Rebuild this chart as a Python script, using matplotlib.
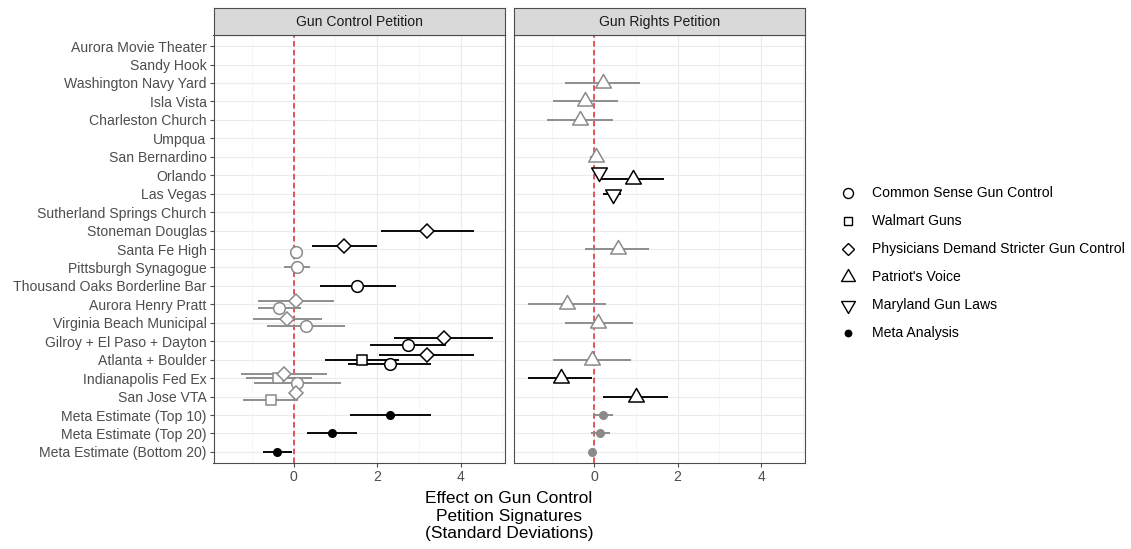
import matplotlib
matplotlib.use("Agg")
import matplotlib.pyplot as plt
from matplotlib.path import Path

plt.rcParams['font.family'] = ['Liberation Sans', 'DejaVu Sans']

# ---------------------------------------------------------------- data
events = [
    "Aurora Movie Theater", "Sandy Hook", "Washington Navy Yard", "Isla Vista",
    "Charleston Church", "Umpqua", "San Bernardino", "Orlando", "Las Vegas",
    "Sutherland Springs Church", "Stoneman Douglas", "Santa Fe High",
    "Pittsburgh Synagogue", "Thousand Oaks Borderline Bar", "Aurora Henry Pratt",
    "Virginia Beach Municipal", "Gilroy + El Paso + Dayton", "Atlanta + Boulder",
    "Indianapolis Fed Ex", "San Jose VTA", "Meta Estimate (Top 10)",
    "Meta Estimate (Top 20)", "Meta Estimate (Bottom 20)",
]
panels = ["Gun Control Petition", "Gun Rights Petition"]
x_ticks = [0, 2, 4]

# Gun Control Petition panel
cs_events = ["Santa Fe High", "Pittsburgh Synagogue", "Thousand Oaks Borderline Bar",
             "Aurora Henry Pratt", "Virginia Beach Municipal", "Gilroy + El Paso + Dayton",
             "Atlanta + Boulder", "Indianapolis Fed Ex"]
cs_est = [0.05, 0.07, 1.52, -0.34, 0.29, 2.74, 2.30, 0.09]
cs_lo = [-0.05, -0.23, 0.63, -0.85, -0.65, 1.82, 1.31, -0.95]
cs_hi = [0.15, 0.39, 2.44, 0.17, 1.23, 3.66, 3.28, 1.13]

wm_events = ["Atlanta + Boulder", "Indianapolis Fed Ex", "San Jose VTA"]
wm_est = [1.63, -0.38, -0.55]
wm_lo = [0.75, -1.15, -1.21]
wm_hi = [2.52, 0.43, 0.10]

pd_events = ["Stoneman Douglas", "Santa Fe High", "Aurora Henry Pratt",
             "Virginia Beach Municipal", "Gilroy + El Paso + Dayton", "Atlanta + Boulder",
             "Indianapolis Fed Ex", "San Jose VTA"]
pd_est = [3.20, 1.21, 0.06, -0.15, 3.60, 3.19, -0.23, 0.05]
pd_lo = [2.08, 0.43, -0.85, -0.97, 2.40, 2.04, -1.27, -0.05]
pd_hi = [4.32, 1.99, 0.97, 0.69, 4.78, 4.32, 0.81, 0.15]

meta_events = ["Meta Estimate (Top 10)", "Meta Estimate (Top 20)", "Meta Estimate (Bottom 20)"]
meta_gc_est = [2.30, 0.91, -0.39]
meta_gc_lo = [1.35, 0.31, -0.74]
meta_gc_hi = [3.28, 1.52, -0.03]

# Gun Rights Petition panel
pv_events = ["Washington Navy Yard", "Isla Vista", "Charleston Church", "San Bernardino",
             "Orlando", "Santa Fe High", "Aurora Henry Pratt", "Virginia Beach Municipal",
             "Atlanta + Boulder", "Indianapolis Fed Ex", "San Jose VTA"]
pv_est = [0.20, -0.22, -0.34, 0.04, 0.92, 0.56, -0.66, 0.10, -0.06, -0.80, 1.01]
pv_lo = [-0.70, -0.98, -1.12, -0.10, 0.16, -0.22, -1.58, -0.70, -0.98, -1.58, 0.22]
pv_hi = [1.10, 0.58, 0.46, 0.18, 1.68, 1.32, 0.28, 0.92, 0.88, -0.04, 1.77]

md_events = ["Orlando", "Las Vegas"]
md_est = [0.12, 0.44]
md_lo = [0.04, 0.22]
md_hi = [0.20, 0.65]

meta_gr_est = [0.22, 0.14, -0.04]
meta_gr_lo = [-0.01, -0.08, -0.12]
meta_gr_hi = [0.44, 0.38, 0.04]

legend_labels = ["Common Sense Gun Control", "Walmart Guns",
                 "Physicians Demand Stricter Gun Control", "Patriot's Voice",
                 "Maryland Gun Laws", "Meta Analysis"]

# ---------------------------------------------------------------- styles
BLACK = "#000000"
GREY = "#8a8a8a"
up_tri = Path([(0, 1), (-0.866, -0.5), (0.866, -0.5), (0, 1)],
              [Path.MOVETO, Path.LINETO, Path.LINETO, Path.CLOSEPOLY])
down_tri = Path([(0, -1), (-0.866, 0.5), (0.866, 0.5), (0, -1)],
                [Path.MOVETO, Path.LINETO, Path.LINETO, Path.CLOSEPOLY])

# label -> (marker, size, filled)
marker_style = {
    "Common Sense Gun Control": ("o", 8.4, False),
    "Walmart Guns": ("s", 7.2, False),
    "Physicians Demand Stricter Gun Control": ("D", 6.8, False),
    "Patriot's Voice": (up_tri, 13.0, False),
    "Maryland Gun Laws": (down_tri, 13.0, False),
    "Meta Analysis": ("o", 5.4, True),
}

series = [
    # panel, label, events, est, lo, hi
    (0, "Common Sense Gun Control", cs_events, cs_est, cs_lo, cs_hi),
    (0, "Walmart Guns", wm_events, wm_est, wm_lo, wm_hi),
    (0, "Physicians Demand Stricter Gun Control", pd_events, pd_est, pd_lo, pd_hi),
    (0, "Meta Analysis", meta_events, meta_gc_est, meta_gc_lo, meta_gc_hi),
    (1, "Patriot's Voice", pv_events, pv_est, pv_lo, pv_hi),
    (1, "Maryland Gun Laws", md_events, md_est, md_lo, md_hi),
    (1, "Meta Analysis", meta_events, meta_gr_est, meta_gr_lo, meta_gr_hi),
]

# ---------------------------------------------------------------- layout
W, H = 1131, 549
fig = plt.figure(figsize=(W / 100, H / 100), dpi=100)
fig.patch.set_facecolor("white")


def px_axes(x0, y0, x1, y1):
    return fig.add_axes([x0 / W, 1 - y1 / H, (x1 - x0) / W, (y1 - y0) / H])


panel_boxes = [(213.5, 35, 504.5, 463), (514, 35, 805, 463)]
XLIM = (-1.92, 5.05)
YLIM = (len(events) - 1 + 0.6, -0.6)
DODGE_W = 0.75
row_of = {e: i for i, e in enumerate(events)}

# group count per (panel, event) for dodging; first series sits lowest
groups = {}
for p, lab, evs, *_ in series:
    for e in evs:
        groups.setdefault((p, e), []).append(lab)

axes = []
for p, (x0, y0, x1, y1) in enumerate(panel_boxes):
    ax = px_axes(x0, y0, x1, y1)
    axes.append(ax)
    ax.set_facecolor("white")
    ax.set_xlim(*XLIM)
    ax.set_ylim(*YLIM)
    ax.set_xticks(x_ticks)
    ax.set_xticks([-1, 1, 3, 5], minor=True)
    ax.set_yticks(range(len(events)))
    ax.grid(which="major", color="#ebebeb", lw=0.85, zorder=0)
    ax.grid(which="minor", axis="x", color="#f2f2f2", lw=0.45, zorder=0)
    ax.set_axisbelow(True)
    for s in ax.spines.values():
        s.set_color("#4d4d4d")
        s.set_linewidth(0.8)
    ax.tick_params(axis="x", which="major", length=2.8, width=0.8, color="#4d4d4d",
                   labelsize=10.1, labelcolor="#4d4d4d", pad=2.5)
    ax.tick_params(axis="x", which="minor", length=0)
    if p == 0:
        ax.set_yticklabels(events)
        ax.tick_params(axis="y", length=2.8, width=0.8, color="#4d4d4d",
                       labelsize=10.1, labelcolor="#4d4d4d", pad=2.2)
    else:
        ax.tick_params(axis="y", length=0, labelleft=False)
    ax.axvline(0, color="#dc2b2b", lw=1.1, dashes=(3.6, 2.2), zorder=1.5)

    # facet strip
    sx = px_axes(x0, 8.3, x1, y0)
    sx.set_facecolor("#d9d9d9")
    sx.set_xticks([])
    sx.set_yticks([])
    for s in sx.spines.values():
        s.set_color("#4d4d4d")
        s.set_linewidth(0.8)
    sx.text(0.5, 0.5, panels[p], ha="center", va="center", fontsize=10.1,
            color="#1a1a1a", transform=sx.transAxes)

# estimates with confidence intervals
for p, lab, evs, est, lo, hi in series:
    ax = axes[p]
    mk, ms, filled = marker_style[lab]
    for e, m, l, h in zip(evs, est, lo, hi):
        members = groups[(p, e)]
        n = len(members)
        i = members.index(lab)
        y = row_of[e] + ((n - 1) / 2 - i) * DODGE_W / n
        col = BLACK if (l > 0 or h < 0) else GREY
        ax.plot([l, h], [y, y], color=col, lw=1.35, solid_capstyle="butt", zorder=3)
        ax.plot([m], [y], marker=mk, ms=ms, mec=col, mew=1.1,
                mfc=col if filled else "white", ls="none", zorder=4)

# axis title shared by both facets
fig.text(509 / W, 1 - 516 / H,
         "Effect on Gun Control\nPetition Signatures\n(Standard Deviations)",
         ha="center", va="center", fontsize=12.5, color="black", linespacing=1.18)

# legend
lg = px_axes(835, 178, 1131, 348)
lg.set_xlim(835, 1131)
lg.set_ylim(348, 178)
lg.axis("off")
legend_sizes = {"Common Sense Gun Control": 7.2, "Walmart Guns": 6.3,
                "Physicians Demand Stricter Gun Control": 6.6, "Patriot's Voice": 11.5,
                "Maryland Gun Laws": 11.5, "Meta Analysis": 4.6}
for k, lab in enumerate(legend_labels):
    y = 193.3 + k * 27.9
    mk, _, filled = marker_style[lab]
    lg.plot([848], [y], marker=mk, ms=legend_sizes[lab], mec="black", mew=1.0,
            mfc="black" if filled else "white", ls="none")
    lg.text(872.5, y, lab, ha="left", va="center", fontsize=10.1, color="black")

fig.savefig("out.png", dpi=100, facecolor="white")
